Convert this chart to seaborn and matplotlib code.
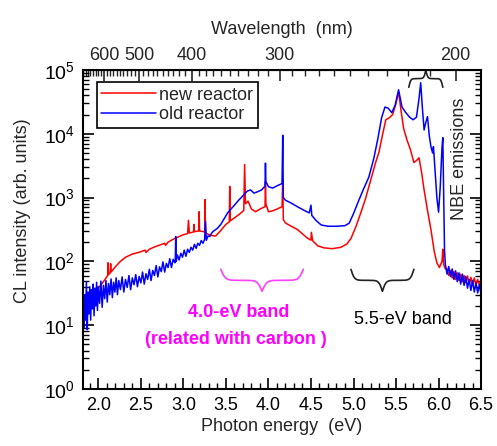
import numpy as np
import matplotlib
matplotlib.use('Agg')
import matplotlib.pyplot as plt
import matplotlib.ticker as ticker
import matplotlib.transforms as mtransforms
import seaborn as sns

# CL spectra: photon energy (eV) and intensity (arb. units)
new_energy = [1.88, 1.92, 1.96, 2.02, 2.07, 2.11, 2.115, 2.12, 2.14, 2.145,
              2.15, 2.20, 2.26, 2.32, 2.40, 2.49, 2.55, 2.56, 2.60, 2.66,
              2.73, 2.78, 2.79, 2.82, 2.88, 2.95, 3.00, 3.05, 3.06, 3.07,
              3.12, 3.125, 3.13, 3.18, 3.185, 3.19, 3.25, 3.255, 3.26, 3.32,
              3.38, 3.44, 3.50, 3.54, 3.545, 3.55, 3.60, 3.66, 3.71, 3.72,
              3.73, 3.76, 3.80, 3.85, 3.90, 3.96, 3.965, 3.97, 4.00, 4.05,
              4.10, 4.16, 4.168, 4.175, 4.20, 4.26, 4.34, 4.40, 4.46, 4.50,
              4.505, 4.52, 4.58, 4.65, 4.75, 4.85, 4.92, 4.97, 5.03, 5.09,
              5.14, 5.18, 5.22, 5.26, 5.30, 5.34, 5.38, 5.42, 5.46, 5.50,
              5.53, 5.56, 5.59, 5.63, 5.67, 5.71, 5.74, 5.77, 5.80, 5.83,
              5.87, 5.91, 5.95, 5.98, 6.01, 6.04, 6.05, 6.06, 6.08, 6.10,
              6.12, 6.14, 6.16, 6.18, 6.20, 6.22, 6.24, 6.26, 6.28, 6.30,
              6.32, 6.34, 6.36, 6.38, 6.40, 6.42, 6.44, 6.46, 6.48, 6.50]
new_intensity = [26, 29, 33, 41, 50, 60, 95, 62, 66, 92,
                 68, 82, 100, 116, 130, 140, 150, 138, 155, 168,
                 182, 192, 178, 200, 222, 245, 262, 272, 440, 278,
                 290, 380, 292, 300, 600, 300, 290, 930, 280, 255,
                 250, 305, 380, 415, 1500, 430, 480, 550, 630, 3300,
                 800, 880, 660, 600, 660, 720, 1780, 800, 600, 620,
                 660, 720, 1900, 450, 400, 360, 316, 270, 230, 215,
                 285, 210, 175, 163, 158, 166, 186, 228, 355, 600,
                 950, 1480, 2300, 3550, 5200, 9500, 16600, 17800, 20000, 30000,
                 45700, 22400, 12000, 7900, 5600, 3550, 3800, 4200, 2500, 1320,
                 630, 316, 141, 95, 80, 100, 155, 89, 76, 76,
                 60, 72, 55, 69, 52, 66, 50, 63, 48, 60,
                 46, 59, 44, 56, 43, 55, 42, 52, 42, 50]

old_energy = [1.820, 1.830, 1.840, 1.850, 1.860, 1.870, 1.880, 1.890, 1.900, 1.910,
              1.920, 1.930, 1.940, 1.950, 1.960, 1.970, 1.980, 1.990, 2.000, 2.015,
              2.030, 2.045, 2.060, 2.075, 2.090, 2.105, 2.120, 2.135, 2.150, 2.165,
              2.180, 2.195, 2.210, 2.225, 2.240, 2.260, 2.280, 2.300, 2.320, 2.340,
              2.360, 2.380, 2.400, 2.420, 2.440, 2.460, 2.480, 2.500, 2.520, 2.540,
              2.560, 2.580, 2.600, 2.620, 2.640, 2.660, 2.680, 2.700, 2.720, 2.740,
              2.760, 2.780, 2.800, 2.820, 2.840, 2.860, 2.880, 2.900, 2.905, 2.910,
              2.915, 2.930, 2.950, 2.970, 2.990, 3.010, 3.030, 3.050, 3.070, 3.090,
              3.110, 3.130, 3.150, 3.170, 3.190, 3.210, 3.230, 3.250, 3.260, 3.270,
              3.290, 3.310, 3.330, 3.350, 3.40, 3.44, 3.48, 3.52, 3.56, 3.60,
              3.65, 3.71, 3.75, 3.79, 3.83, 3.87, 3.92, 3.96, 3.965, 3.97,
              4.00, 4.05, 4.11, 4.16, 4.168, 4.175, 4.20, 4.26, 4.34, 4.42,
              4.48, 4.50, 4.51, 4.56, 4.62, 4.70, 4.80, 4.90, 4.95, 5.00,
              5.06, 5.12, 5.18, 5.24, 5.29, 5.33, 5.37, 5.41, 5.45, 5.49,
              5.53, 5.57, 5.61, 5.66, 5.70, 5.74, 5.77, 5.79, 5.81, 5.83,
              5.85, 5.87, 5.89, 5.91, 5.93, 5.94, 5.96, 5.98, 6.00, 6.02,
              6.04, 6.05, 6.06, 6.07, 6.08, 6.10, 6.12, 6.14, 6.16, 6.18,
              6.20, 6.22, 6.24, 6.26, 6.28, 6.30, 6.32, 6.34, 6.36, 6.38,
              6.40, 6.42, 6.44, 6.46, 6.48, 6.50]
old_intensity = [45, 9, 30, 12, 48, 8.5, 33, 15, 40, 12,
                 36, 18, 44, 14, 38, 20, 47, 17, 40, 22,
                 49, 19, 42, 26, 50, 23, 45, 30, 53, 27,
                 47, 33, 55, 30, 50, 36, 57, 33, 52, 39,
                 60, 36, 55, 43, 62, 40, 58, 46, 68, 44,
                 64, 52, 75, 50, 72, 60, 86, 57, 82, 69,
                 98, 68, 93, 80, 110, 80, 108, 95, 100, 245,
                 100, 126, 105, 134, 116, 150, 120, 155, 138, 166,
                 150, 185, 160, 192, 178, 212, 192, 222, 420, 214,
                 250, 245, 275, 295, 330, 380, 468, 575, 660, 760,
                 910, 1100, 1260, 1320, 1175, 1230, 1320, 1510, 3470, 1780,
                 1480, 1410, 1550, 1660, 9500, 1000, 910, 830, 720, 630,
                 575, 760, 525, 437, 372, 355, 355, 363, 398, 560,
                 890, 1380, 2090, 4170, 8900, 17800, 26300, 25100, 21400, 28200,
                 49000, 26300, 21900, 18200, 16600, 18200, 35500, 63100, 25100, 11500,
                 15100, 18600, 9550, 6300, 5000, 6300, 2500, 1000, 590, 1500,
                 6000, 8700, 1000, 150, 90, 63, 83, 58, 76, 52,
                 71, 48, 66, 44, 63, 42, 58, 38, 52, 35,
                 50, 33, 46, 32, 43, 30]

wavelength_ticks = [600, 500, 400, 300, 200]
wavelength_minor = list(range(200, 690, 10))

sns.set_style('ticks')
plt.rcParams['font.family'] = ['Liberation Sans', 'DejaVu Sans']
plt.rcParams['mathtext.default'] = 'regular'

fig = plt.figure(figsize=(4.97, 4.46), dpi=100)
ax = fig.add_axes([0.167, 0.128, 0.801, 0.715])

sns.lineplot(x=new_energy, y=new_intensity, color='#ff0000', lw=1.1,
             label='new reactor', sort=False, estimator=None, ax=ax)
sns.lineplot(x=old_energy, y=old_intensity, color='#0000ff', lw=1.1,
             label='old reactor', sort=False, estimator=None, ax=ax)

ax.set_yscale('log')
ax.set_ylim(1, 1e5)
ax.set_xlim(1.82, 6.5)

ax.xaxis.set_major_locator(ticker.MultipleLocator(0.5))
ax.xaxis.set_minor_locator(ticker.MultipleLocator(0.1))
ax.xaxis.set_major_formatter(ticker.FormatStrFormatter('%.1f'))
ax.yaxis.set_major_locator(ticker.LogLocator(base=10, numticks=10))
ax.yaxis.set_minor_locator(ticker.LogLocator(base=10, subs=np.arange(2, 10), numticks=10))
ax.yaxis.set_minor_formatter(ticker.NullFormatter())

ax.tick_params(which='both', direction='in', top=False, right=True, colors='black')
ax.tick_params(which='major', length=8, width=1.2, pad=6)
ax.tick_params(which='minor', length=4, width=1)
ax.tick_params(axis='x', labelsize=13)
ax.tick_params(axis='y', labelsize=14)
for s in ax.spines.values():
    s.set_linewidth(1.5)
    s.set_color('black')

ax.set_xlabel('Photon energy  (eV)', fontsize=13, labelpad=3)
ax.set_ylabel('CL intensity (arb. units)', fontsize=13)
ax.yaxis.set_label_coords(-0.13, 0.56)


def ev_to_nm(e):
    e = np.asarray(e, dtype=float)
    with np.errstate(divide='ignore'):
        return 1239.84 / e


sec = ax.secondary_xaxis('top', functions=(ev_to_nm, ev_to_nm))
sec.set_xticks(wavelength_ticks)
sec.xaxis.set_minor_locator(ticker.FixedLocator(wavelength_minor))
sec.xaxis.set_major_formatter(ticker.FormatStrFormatter('%d'))
sec.tick_params(which='both', direction='in', labelsize=13, pad=4)
sec.tick_params(which='major', length=8, width=1.2)
sec.tick_params(which='minor', length=4, width=1)
sec.set_xlabel('Wavelength  (nm)', fontsize=13, labelpad=10)

leg = ax.legend(loc='upper left', bbox_to_anchor=(0.035, 0.962), borderaxespad=0,
                fontsize=13, handlelength=3.0, handletextpad=0.2, labelspacing=0.15,
                borderpad=0.25, fancybox=False, framealpha=1, edgecolor='black')
leg.get_frame().set_linewidth(1.2)


def curly_brace(x0, x1, y_end, y_tip, color):
    # horizontal brace: x in eV, y in decades of the log axis
    tr = mtransforms.blended_transform_factory(ax.transData, ax.transAxes)
    u = np.linspace(0, 1, 80)
    half = 1 / (1 + np.exp(-18 * u)) + 1 / (1 + np.exp(-18 * (u - 1)))
    shape = np.concatenate([half, half[-2::-1]]) - 0.5
    xs = np.linspace(x0, x1, shape.size)
    ys = (y_end + (y_tip - y_end) * shape) / 5.0
    ax.plot(xs, ys, color=color, lw=1.2, transform=tr, clip_on=False)


curly_brace(3.44, 4.41, 1.875, 1.53, '#ff40ff')
curly_brace(4.97, 5.71, 1.875, 1.53, '#222222')
curly_brace(5.65, 6.05, 4.73, 5.0, '#222222')

ax.text(3.65, 10**1.2, '4.0-eV band', color='#ff00ff', fontsize=13,
        fontweight='bold', ha='center', va='center')
ax.text(3.62, 10**0.78, '(related with carbon )', color='#ff00ff', fontsize=13,
        fontweight='bold', ha='center', va='center')
ax.text(5.58, 10**1.09, '5.5-eV band', color='black', fontsize=13,
        ha='center', va='center')
ax.text(0.947, 0.72, 'NBE emissions', transform=ax.transAxes, rotation=90,
        fontsize=13, ha='center', va='center')

fig.savefig('out.png', dpi=100)
